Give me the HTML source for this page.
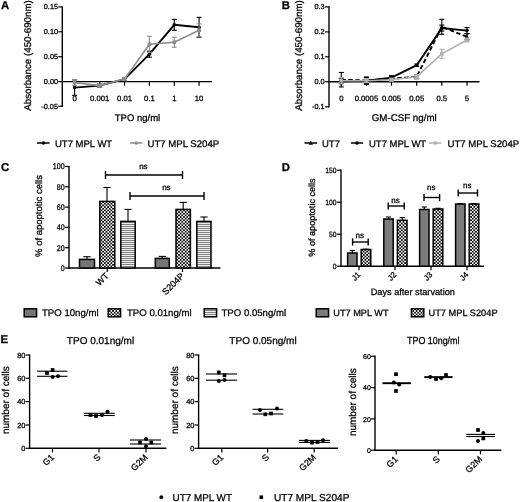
<!DOCTYPE html>
<html><head><meta charset="utf-8"><title>Figure</title>
<style>html,body{margin:0;padding:0;background:#fff;}svg{display:block;will-change:transform;}text{font-family:'Liberation Sans', sans-serif;stroke:#000;stroke-width:0.27px;text-rendering:geometricPrecision;}</style>
</head><body>
<svg width="520" height="502" viewBox="0 0 520 502" style="font-family:'Liberation Sans', sans-serif">
<defs>
<pattern id="chk" width="3.3" height="3.3" patternUnits="userSpaceOnUse"><rect width="3.3" height="3.3" fill="#fff"/><rect x="0" y="0" width="1.65" height="1.65" fill="#000"/><rect x="1.65" y="1.65" width="1.65" height="1.65" fill="#000"/></pattern>
<pattern id="hl" width="2" height="2" patternUnits="userSpaceOnUse"><rect width="2" height="2" fill="#ececec"/><rect x="0" y="0" width="2" height="1" fill="#858585"/></pattern>
</defs>
<rect width="520" height="502" fill="#fff"/>
<text x="1.0" y="8.8" font-size="11.3" text-anchor="start" font-weight="bold" fill="#000">A</text>
<line x1="62.3" y1="6.2" x2="62.3" y2="106.9" stroke="#000" stroke-width="1.4"/>
<line x1="61.8" y1="81.65" x2="211.9" y2="81.65" stroke="#000" stroke-width="1.4"/>
<line x1="58.3" y1="6.9" x2="62.3" y2="6.9" stroke="#000" stroke-width="1.2"/>
<text x="58.0" y="9.3" font-size="7.3" text-anchor="end" font-weight="normal" fill="#000">0.15</text>
<line x1="58.3" y1="31.8" x2="62.3" y2="31.8" stroke="#000" stroke-width="1.2"/>
<text x="58.0" y="34.2" font-size="7.3" text-anchor="end" font-weight="normal" fill="#000">0.10</text>
<line x1="58.3" y1="56.7" x2="62.3" y2="56.7" stroke="#000" stroke-width="1.2"/>
<text x="58.0" y="59.1" font-size="7.3" text-anchor="end" font-weight="normal" fill="#000">0.05</text>
<line x1="58.3" y1="81.6" x2="62.3" y2="81.6" stroke="#000" stroke-width="1.2"/>
<text x="58.0" y="84.0" font-size="7.3" text-anchor="end" font-weight="normal" fill="#000">0.00</text>
<line x1="58.3" y1="106.2" x2="62.3" y2="106.2" stroke="#000" stroke-width="1.2"/>
<text x="58.0" y="108.60000000000001" font-size="7.3" text-anchor="end" font-weight="normal" fill="#000">-0.05</text>
<line x1="74.6" y1="81.65" x2="74.6" y2="85.65" stroke="#000" stroke-width="1.2"/>
<text x="74.6" y="100.65" font-size="7.7" text-anchor="middle" font-weight="normal" fill="#000">0</text>
<line x1="99.6" y1="81.65" x2="99.6" y2="85.65" stroke="#000" stroke-width="1.2"/>
<text x="99.6" y="100.65" font-size="7.7" text-anchor="middle" font-weight="normal" fill="#000">0.001</text>
<line x1="124.5" y1="81.65" x2="124.5" y2="85.65" stroke="#000" stroke-width="1.2"/>
<text x="124.5" y="100.65" font-size="7.7" text-anchor="middle" font-weight="normal" fill="#000">0.01</text>
<line x1="149.4" y1="81.65" x2="149.4" y2="85.65" stroke="#000" stroke-width="1.2"/>
<text x="149.4" y="100.65" font-size="7.7" text-anchor="middle" font-weight="normal" fill="#000">0.1</text>
<line x1="174.3" y1="81.65" x2="174.3" y2="85.65" stroke="#000" stroke-width="1.2"/>
<text x="174.3" y="100.65" font-size="7.7" text-anchor="middle" font-weight="normal" fill="#000">1</text>
<line x1="199.1" y1="81.65" x2="199.1" y2="85.65" stroke="#000" stroke-width="1.2"/>
<text x="199.1" y="100.65" font-size="7.7" text-anchor="middle" font-weight="normal" fill="#000">10</text>
<text x="31.3" y="55.5" font-size="9.75" text-anchor="middle" font-weight="normal" fill="#000" transform="rotate(-90 31.3 55.5)">Absorbance (450-690nm)</text>
<text x="137.5" y="121.0" font-size="9.5" text-anchor="middle" font-weight="normal" fill="#000">TPO ng/ml</text>
<line x1="74.6" y1="79.857" x2="74.6" y2="95.29499999999999" stroke="#000" stroke-width="1.1"/>
<line x1="72.1" y1="79.857" x2="77.1" y2="79.857" stroke="#000" stroke-width="1.1"/>
<line x1="72.1" y1="95.29499999999999" x2="77.1" y2="95.29499999999999" stroke="#000" stroke-width="1.1"/>
<line x1="99.6" y1="84.08999999999999" x2="99.6" y2="87.07799999999999" stroke="#000" stroke-width="1.1"/>
<line x1="97.1" y1="84.08999999999999" x2="102.1" y2="84.08999999999999" stroke="#000" stroke-width="1.1"/>
<line x1="97.1" y1="87.07799999999999" x2="102.1" y2="87.07799999999999" stroke="#000" stroke-width="1.1"/>
<line x1="124.5" y1="77.616" x2="124.5" y2="80.604" stroke="#000" stroke-width="1.1"/>
<line x1="122.0" y1="77.616" x2="127.0" y2="77.616" stroke="#000" stroke-width="1.1"/>
<line x1="122.0" y1="80.604" x2="127.0" y2="80.604" stroke="#000" stroke-width="1.1"/>
<line x1="149.4" y1="51.221999999999994" x2="149.4" y2="57.19799999999999" stroke="#000" stroke-width="1.1"/>
<line x1="146.9" y1="51.221999999999994" x2="151.9" y2="51.221999999999994" stroke="#000" stroke-width="1.1"/>
<line x1="146.9" y1="57.19799999999999" x2="151.9" y2="57.19799999999999" stroke="#000" stroke-width="1.1"/>
<line x1="174.3" y1="19.349999999999994" x2="174.3" y2="30.30599999999999" stroke="#000" stroke-width="1.1"/>
<line x1="171.8" y1="19.349999999999994" x2="176.8" y2="19.349999999999994" stroke="#000" stroke-width="1.1"/>
<line x1="171.8" y1="30.30599999999999" x2="176.8" y2="30.30599999999999" stroke="#000" stroke-width="1.1"/>
<line x1="199.1" y1="17.35799999999999" x2="199.1" y2="37.278" stroke="#000" stroke-width="1.1"/>
<line x1="196.6" y1="17.35799999999999" x2="201.6" y2="17.35799999999999" stroke="#000" stroke-width="1.1"/>
<line x1="196.6" y1="37.278" x2="201.6" y2="37.278" stroke="#000" stroke-width="1.1"/>
<polyline points="74.6,87.6 99.6,85.6 124.5,79.1 149.4,54.2 174.3,24.8 199.1,27.3" fill="none" stroke="#000" stroke-width="1.9"/>
<circle cx="74.6" cy="87.576" r="1.8" fill="#000"/>
<circle cx="99.6" cy="85.58399999999999" r="1.8" fill="#000"/>
<circle cx="124.5" cy="79.11" r="1.8" fill="#000"/>
<circle cx="149.4" cy="54.209999999999994" r="1.8" fill="#000"/>
<circle cx="174.3" cy="24.82799999999999" r="1.8" fill="#000"/>
<circle cx="199.1" cy="27.317999999999998" r="1.8" fill="#000"/>
<line x1="74.6" y1="79.60799999999999" x2="74.6" y2="85.58399999999999" stroke="#8c8c8c" stroke-width="1.1"/>
<line x1="72.1" y1="79.60799999999999" x2="77.1" y2="79.60799999999999" stroke="#8c8c8c" stroke-width="1.1"/>
<line x1="72.1" y1="85.58399999999999" x2="77.1" y2="85.58399999999999" stroke="#8c8c8c" stroke-width="1.1"/>
<line x1="99.6" y1="84.08999999999999" x2="99.6" y2="87.07799999999999" stroke="#8c8c8c" stroke-width="1.1"/>
<line x1="97.1" y1="84.08999999999999" x2="102.1" y2="84.08999999999999" stroke="#8c8c8c" stroke-width="1.1"/>
<line x1="97.1" y1="87.07799999999999" x2="102.1" y2="87.07799999999999" stroke="#8c8c8c" stroke-width="1.1"/>
<line x1="124.5" y1="77.616" x2="124.5" y2="80.604" stroke="#8c8c8c" stroke-width="1.1"/>
<line x1="122.0" y1="77.616" x2="127.0" y2="77.616" stroke="#8c8c8c" stroke-width="1.1"/>
<line x1="122.0" y1="80.604" x2="127.0" y2="80.604" stroke="#8c8c8c" stroke-width="1.1"/>
<line x1="149.4" y1="36.282" x2="149.4" y2="52.217999999999996" stroke="#8c8c8c" stroke-width="1.1"/>
<line x1="146.9" y1="36.282" x2="151.9" y2="36.282" stroke="#8c8c8c" stroke-width="1.1"/>
<line x1="146.9" y1="52.217999999999996" x2="151.9" y2="52.217999999999996" stroke="#8c8c8c" stroke-width="1.1"/>
<line x1="174.3" y1="37.278" x2="174.3" y2="47.23799999999999" stroke="#8c8c8c" stroke-width="1.1"/>
<line x1="171.8" y1="37.278" x2="176.8" y2="37.278" stroke="#8c8c8c" stroke-width="1.1"/>
<line x1="171.8" y1="47.23799999999999" x2="176.8" y2="47.23799999999999" stroke="#8c8c8c" stroke-width="1.1"/>
<line x1="199.1" y1="23.832" x2="199.1" y2="36.779999999999994" stroke="#8c8c8c" stroke-width="1.1"/>
<line x1="196.6" y1="23.832" x2="201.6" y2="23.832" stroke="#8c8c8c" stroke-width="1.1"/>
<line x1="196.6" y1="36.779999999999994" x2="201.6" y2="36.779999999999994" stroke="#8c8c8c" stroke-width="1.1"/>
<polyline points="74.6,82.6 99.6,85.6 124.5,79.1 149.4,44.2 174.3,42.3 199.1,30.3" fill="none" stroke="#8c8c8c" stroke-width="1.6"/>
<rect x="72.8" y="80.79599999999999" width="3.6" height="3.6" fill="#8c8c8c"/>
<rect x="97.8" y="83.78399999999999" width="3.6" height="3.6" fill="#8c8c8c"/>
<rect x="122.7" y="77.31" width="3.6" height="3.6" fill="#8c8c8c"/>
<rect x="147.6" y="42.449999999999996" width="3.6" height="3.6" fill="#8c8c8c"/>
<rect x="172.5" y="40.458" width="3.6" height="3.6" fill="#8c8c8c"/>
<rect x="197.29999999999998" y="28.505999999999997" width="3.6" height="3.6" fill="#8c8c8c"/>
<line x1="37" y1="143" x2="49.6" y2="143" stroke="#000" stroke-width="1.5"/>
<circle cx="43.4" cy="143" r="1.7" fill="#000"/>
<text x="55" y="146.7" font-size="9.5" text-anchor="start" font-weight="normal" fill="#000">UT7 MPL WT</text>
<line x1="130" y1="143" x2="142.3" y2="143" stroke="#8c8c8c" stroke-width="1.5"/>
<circle cx="136.2" cy="143" r="1.8" fill="#8c8c8c"/>
<text x="147.5" y="146.7" font-size="9.6" text-anchor="start" font-weight="normal" fill="#000">UT7 MPL S204P</text>
<text x="281.7" y="8.7" font-size="11.3" text-anchor="start" font-weight="bold" fill="#000">B</text>
<line x1="329.0" y1="6.2" x2="329.0" y2="107.5" stroke="#000" stroke-width="1.4"/>
<line x1="328.5" y1="81.7" x2="479.5" y2="81.7" stroke="#000" stroke-width="1.4"/>
<line x1="325.0" y1="6.9" x2="329.0" y2="6.9" stroke="#000" stroke-width="1.2"/>
<text x="324.7" y="9.3" font-size="7.3" text-anchor="end" font-weight="normal" fill="#000">0.3</text>
<line x1="325.0" y1="31.9" x2="329.0" y2="31.9" stroke="#000" stroke-width="1.2"/>
<text x="324.7" y="34.3" font-size="7.3" text-anchor="end" font-weight="normal" fill="#000">0.2</text>
<line x1="325.0" y1="56.8" x2="329.0" y2="56.8" stroke="#000" stroke-width="1.2"/>
<text x="324.7" y="59.199999999999996" font-size="7.3" text-anchor="end" font-weight="normal" fill="#000">0.1</text>
<line x1="325.0" y1="81.7" x2="329.0" y2="81.7" stroke="#000" stroke-width="1.2"/>
<text x="324.7" y="84.10000000000001" font-size="7.3" text-anchor="end" font-weight="normal" fill="#000">0.0</text>
<line x1="325.0" y1="106.8" x2="329.0" y2="106.8" stroke="#000" stroke-width="1.2"/>
<text x="324.7" y="109.2" font-size="7.3" text-anchor="end" font-weight="normal" fill="#000">-0.1</text>
<line x1="341.3" y1="81.7" x2="341.3" y2="85.7" stroke="#000" stroke-width="1.2"/>
<text x="341.3" y="100.7" font-size="7.7" text-anchor="middle" font-weight="normal" fill="#000">0</text>
<line x1="366.4" y1="81.7" x2="366.4" y2="85.7" stroke="#000" stroke-width="1.2"/>
<text x="366.4" y="100.7" font-size="7.7" text-anchor="middle" font-weight="normal" fill="#000">0.0005</text>
<line x1="391.5" y1="81.7" x2="391.5" y2="85.7" stroke="#000" stroke-width="1.2"/>
<text x="391.5" y="100.7" font-size="7.7" text-anchor="middle" font-weight="normal" fill="#000">0.005</text>
<line x1="416.7" y1="81.7" x2="416.7" y2="85.7" stroke="#000" stroke-width="1.2"/>
<text x="416.7" y="100.7" font-size="7.7" text-anchor="middle" font-weight="normal" fill="#000">0.05</text>
<line x1="441.8" y1="81.7" x2="441.8" y2="85.7" stroke="#000" stroke-width="1.2"/>
<text x="441.8" y="100.7" font-size="7.7" text-anchor="middle" font-weight="normal" fill="#000">0.5</text>
<line x1="467" y1="81.7" x2="467" y2="85.7" stroke="#000" stroke-width="1.2"/>
<text x="467" y="100.7" font-size="7.7" text-anchor="middle" font-weight="normal" fill="#000">5</text>
<text x="302" y="55.5" font-size="9.75" text-anchor="middle" font-weight="normal" fill="#000" transform="rotate(-90 302 55.5)">Absorbance (450-690nm)</text>
<text x="404.2" y="120.6" font-size="9.75" text-anchor="middle" font-weight="normal" fill="#000">GM-CSF ng/ml</text>
<line x1="341.3" y1="72.4685" x2="341.3" y2="86.93950000000001" stroke="#000" stroke-width="1.1"/>
<line x1="338.8" y1="72.4685" x2="343.8" y2="72.4685" stroke="#000" stroke-width="1.1"/>
<line x1="338.8" y1="86.93950000000001" x2="343.8" y2="86.93950000000001" stroke="#000" stroke-width="1.1"/>
<line x1="366.4" y1="77.4585" x2="366.4" y2="83.4465" stroke="#000" stroke-width="1.1"/>
<line x1="363.9" y1="77.4585" x2="368.9" y2="77.4585" stroke="#000" stroke-width="1.1"/>
<line x1="363.9" y1="83.4465" x2="368.9" y2="83.4465" stroke="#000" stroke-width="1.1"/>
<line x1="391.5" y1="76.211" x2="391.5" y2="81.20100000000001" stroke="#000" stroke-width="1.1"/>
<line x1="389.0" y1="76.211" x2="394.0" y2="76.211" stroke="#000" stroke-width="1.1"/>
<line x1="389.0" y1="81.20100000000001" x2="394.0" y2="81.20100000000001" stroke="#000" stroke-width="1.1"/>
<line x1="416.7" y1="74.714" x2="416.7" y2="78.706" stroke="#000" stroke-width="1.1"/>
<line x1="414.2" y1="74.714" x2="419.2" y2="74.714" stroke="#000" stroke-width="1.1"/>
<line x1="414.2" y1="78.706" x2="419.2" y2="78.706" stroke="#000" stroke-width="1.1"/>
<line x1="441.8" y1="19.325000000000003" x2="441.8" y2="34.295" stroke="#000" stroke-width="1.1"/>
<line x1="439.3" y1="19.325000000000003" x2="444.3" y2="19.325000000000003" stroke="#000" stroke-width="1.1"/>
<line x1="439.3" y1="34.295" x2="444.3" y2="34.295" stroke="#000" stroke-width="1.1"/>
<line x1="467" y1="33.796" x2="467" y2="39.784000000000006" stroke="#000" stroke-width="1.1"/>
<line x1="464.5" y1="33.796" x2="469.5" y2="33.796" stroke="#000" stroke-width="1.1"/>
<line x1="464.5" y1="39.784000000000006" x2="469.5" y2="39.784000000000006" stroke="#000" stroke-width="1.1"/>
<polyline points="341.3,79.7 366.4,80.5 391.5,78.7 416.7,76.7 441.8,26.8 467,36.8" fill="none" stroke="#000" stroke-width="1.9" stroke-dasharray="4.5,2.5"/>
<polygon points="341.3,77.504 339.1,81.504 343.5,81.504" fill="#000"/>
<polygon points="366.4,78.2525 364.2,82.2525 368.59999999999997,82.2525" fill="#000"/>
<polygon points="391.5,76.506 389.3,80.506 393.7,80.506" fill="#000"/>
<polygon points="416.7,74.51 414.5,78.51 418.9,78.51" fill="#000"/>
<polygon points="441.8,24.610000000000003 439.6,28.610000000000003 444.0,28.610000000000003" fill="#000"/>
<polygon points="467,34.59 464.8,38.59 469.2,38.59" fill="#000"/>
<line x1="341.3" y1="78.706" x2="341.3" y2="83.696" stroke="#000" stroke-width="1.1"/>
<line x1="338.8" y1="78.706" x2="343.8" y2="78.706" stroke="#000" stroke-width="1.1"/>
<line x1="338.8" y1="83.696" x2="343.8" y2="83.696" stroke="#000" stroke-width="1.1"/>
<line x1="366.4" y1="76.9595" x2="366.4" y2="84.4445" stroke="#000" stroke-width="1.1"/>
<line x1="363.9" y1="76.9595" x2="368.9" y2="76.9595" stroke="#000" stroke-width="1.1"/>
<line x1="363.9" y1="84.4445" x2="368.9" y2="84.4445" stroke="#000" stroke-width="1.1"/>
<line x1="391.5" y1="75.712" x2="391.5" y2="79.70400000000001" stroke="#000" stroke-width="1.1"/>
<line x1="389.0" y1="75.712" x2="394.0" y2="75.712" stroke="#000" stroke-width="1.1"/>
<line x1="389.0" y1="79.70400000000001" x2="394.0" y2="79.70400000000001" stroke="#000" stroke-width="1.1"/>
<line x1="416.7" y1="63.9855" x2="416.7" y2="66.4805" stroke="#000" stroke-width="1.1"/>
<line x1="414.2" y1="63.9855" x2="419.2" y2="63.9855" stroke="#000" stroke-width="1.1"/>
<line x1="414.2" y1="66.4805" x2="419.2" y2="66.4805" stroke="#000" stroke-width="1.1"/>
<line x1="441.8" y1="25.063499999999998" x2="441.8" y2="31.051500000000004" stroke="#000" stroke-width="1.1"/>
<line x1="439.3" y1="25.063499999999998" x2="444.3" y2="25.063499999999998" stroke="#000" stroke-width="1.1"/>
<line x1="439.3" y1="31.051500000000004" x2="444.3" y2="31.051500000000004" stroke="#000" stroke-width="1.1"/>
<line x1="467" y1="27.558500000000002" x2="467" y2="33.54650000000001" stroke="#000" stroke-width="1.1"/>
<line x1="464.5" y1="27.558500000000002" x2="469.5" y2="27.558500000000002" stroke="#000" stroke-width="1.1"/>
<line x1="464.5" y1="33.54650000000001" x2="469.5" y2="33.54650000000001" stroke="#000" stroke-width="1.1"/>
<polyline points="341.3,81.2 366.4,80.7 391.5,77.7 416.7,65.2 441.8,28.1 467,30.6" fill="none" stroke="#000" stroke-width="1.9"/>
<circle cx="341.3" cy="81.20100000000001" r="1.8" fill="#000"/>
<circle cx="366.4" cy="80.702" r="1.8" fill="#000"/>
<circle cx="391.5" cy="77.708" r="1.8" fill="#000"/>
<circle cx="416.7" cy="65.233" r="1.8" fill="#000"/>
<circle cx="441.8" cy="28.057500000000005" r="1.8" fill="#000"/>
<circle cx="467" cy="30.55250000000001" r="1.8" fill="#000"/>
<line x1="341.3" y1="77.708" x2="341.3" y2="83.696" stroke="#b0b0b0" stroke-width="1.1"/>
<line x1="338.8" y1="77.708" x2="343.8" y2="77.708" stroke="#b0b0b0" stroke-width="1.1"/>
<line x1="338.8" y1="83.696" x2="343.8" y2="83.696" stroke="#b0b0b0" stroke-width="1.1"/>
<line x1="366.4" y1="78.706" x2="366.4" y2="82.69800000000001" stroke="#b0b0b0" stroke-width="1.1"/>
<line x1="363.9" y1="78.706" x2="368.9" y2="78.706" stroke="#b0b0b0" stroke-width="1.1"/>
<line x1="363.9" y1="82.69800000000001" x2="368.9" y2="82.69800000000001" stroke="#b0b0b0" stroke-width="1.1"/>
<line x1="391.5" y1="78.20700000000001" x2="391.5" y2="81.20100000000001" stroke="#b0b0b0" stroke-width="1.1"/>
<line x1="389.0" y1="78.20700000000001" x2="394.0" y2="78.20700000000001" stroke="#b0b0b0" stroke-width="1.1"/>
<line x1="389.0" y1="81.20100000000001" x2="394.0" y2="81.20100000000001" stroke="#b0b0b0" stroke-width="1.1"/>
<line x1="416.7" y1="74.714" x2="416.7" y2="78.706" stroke="#b0b0b0" stroke-width="1.1"/>
<line x1="414.2" y1="74.714" x2="419.2" y2="74.714" stroke="#b0b0b0" stroke-width="1.1"/>
<line x1="414.2" y1="78.706" x2="419.2" y2="78.706" stroke="#b0b0b0" stroke-width="1.1"/>
<line x1="441.8" y1="49.265" x2="441.8" y2="58.247" stroke="#b0b0b0" stroke-width="1.1"/>
<line x1="439.3" y1="49.265" x2="444.3" y2="49.265" stroke="#b0b0b0" stroke-width="1.1"/>
<line x1="439.3" y1="58.247" x2="444.3" y2="58.247" stroke="#b0b0b0" stroke-width="1.1"/>
<line x1="467" y1="38.0375" x2="467" y2="42.0295" stroke="#b0b0b0" stroke-width="1.1"/>
<line x1="464.5" y1="38.0375" x2="469.5" y2="38.0375" stroke="#b0b0b0" stroke-width="1.1"/>
<line x1="464.5" y1="42.0295" x2="469.5" y2="42.0295" stroke="#b0b0b0" stroke-width="1.1"/>
<polyline points="341.3,80.7 366.4,80.7 391.5,79.7 416.7,76.7 441.8,53.8 467,40.0" fill="none" stroke="#b0b0b0" stroke-width="1.6"/>
<rect x="339.5" y="78.902" width="3.6" height="3.6" fill="#b0b0b0"/>
<rect x="364.59999999999997" y="78.902" width="3.6" height="3.6" fill="#b0b0b0"/>
<rect x="389.7" y="77.90400000000001" width="3.6" height="3.6" fill="#b0b0b0"/>
<rect x="414.9" y="74.91000000000001" width="3.6" height="3.6" fill="#b0b0b0"/>
<rect x="440.0" y="51.956" width="3.6" height="3.6" fill="#b0b0b0"/>
<rect x="465.2" y="38.23350000000001" width="3.6" height="3.6" fill="#b0b0b0"/>
<line x1="304.5" y1="143" x2="317" y2="143" stroke="#000" stroke-width="1.5"/>
<polygon points="310.8,140.8 308.6,144.8 313,144.8" fill="#000"/>
<text x="322" y="146.7" font-size="9.5" text-anchor="start" font-weight="normal" fill="#000">UT7</text>
<line x1="351" y1="143" x2="363.2" y2="143" stroke="#000" stroke-width="1.5"/>
<circle cx="357" cy="143" r="1.8" fill="#000"/>
<text x="369" y="146.7" font-size="9.5" text-anchor="start" font-weight="normal" fill="#000">UT7 MPL WT</text>
<line x1="429" y1="143" x2="441.3" y2="143" stroke="#b0b0b0" stroke-width="1.5"/>
<rect x="433.59999999999997" y="141.4" width="3.2" height="3.2" fill="#b0b0b0"/>
<text x="447.5" y="146.7" font-size="9.6" text-anchor="start" font-weight="normal" fill="#000">UT7 MPL S204P</text>
<text x="1.0" y="171.0" font-size="11.4" text-anchor="start" font-weight="bold" fill="#000">C</text>
<line x1="69.0" y1="165.9" x2="69.0" y2="268.7" stroke="#000" stroke-width="1.4"/>
<line x1="68.5" y1="268.0" x2="220.5" y2="268.0" stroke="#000" stroke-width="1.4"/>
<line x1="65.0" y1="268.0" x2="69.0" y2="268.0" stroke="#000" stroke-width="1.2"/>
<text x="0" y="0" font-size="8.2" text-anchor="end" font-weight="normal" fill="#000" transform="translate(64.7 270.9) scale(0.87 1)">0</text>
<line x1="65.0" y1="247.7" x2="69.0" y2="247.7" stroke="#000" stroke-width="1.2"/>
<text x="0" y="0" font-size="8.2" text-anchor="end" font-weight="normal" fill="#000" transform="translate(64.7 250.6) scale(0.87 1)">20</text>
<line x1="65.0" y1="227.4" x2="69.0" y2="227.4" stroke="#000" stroke-width="1.2"/>
<text x="0" y="0" font-size="8.2" text-anchor="end" font-weight="normal" fill="#000" transform="translate(64.7 230.3) scale(0.87 1)">40</text>
<line x1="65.0" y1="207.10000000000002" x2="69.0" y2="207.10000000000002" stroke="#000" stroke-width="1.2"/>
<text x="0" y="0" font-size="8.2" text-anchor="end" font-weight="normal" fill="#000" transform="translate(64.7 210.00000000000003) scale(0.87 1)">60</text>
<line x1="65.0" y1="186.8" x2="69.0" y2="186.8" stroke="#000" stroke-width="1.2"/>
<text x="0" y="0" font-size="8.2" text-anchor="end" font-weight="normal" fill="#000" transform="translate(64.7 189.70000000000002) scale(0.87 1)">80</text>
<line x1="65.0" y1="166.5" x2="69.0" y2="166.5" stroke="#000" stroke-width="1.2"/>
<text x="0" y="0" font-size="8.2" text-anchor="end" font-weight="normal" fill="#000" transform="translate(64.7 169.4) scale(0.87 1)">100</text>
<text x="41.8" y="216" font-size="9.5" text-anchor="middle" font-weight="normal" fill="#000" transform="rotate(-90 41.8 216)">% of apoptotic cells</text>
<line x1="87" y1="259.4" x2="87" y2="256.7" stroke="#000" stroke-width="1.1"/>
<line x1="83.4" y1="256.7" x2="90.6" y2="256.7" stroke="#000" stroke-width="1.1"/>
<rect x="79.5" y="259.4" width="15.0" height="8.600000000000023" fill="#757575" stroke="#000" stroke-width="1.5"/>
<line x1="107" y1="201.4" x2="107" y2="187.5" stroke="#000" stroke-width="1.1"/>
<line x1="103.4" y1="187.5" x2="110.6" y2="187.5" stroke="#000" stroke-width="1.1"/>
<rect x="99.8" y="201.4" width="15.0" height="66.6" fill="url(#chk)" stroke="#000" stroke-width="1.5"/>
<line x1="128" y1="221.4" x2="128" y2="209.4" stroke="#000" stroke-width="1.1"/>
<line x1="124.4" y1="209.4" x2="131.6" y2="209.4" stroke="#000" stroke-width="1.1"/>
<rect x="120.8" y="221.4" width="14.399999999999991" height="46.599999999999994" fill="url(#hl)" stroke="#000" stroke-width="1.5"/>
<line x1="162.3" y1="258.4" x2="162.3" y2="256.4" stroke="#000" stroke-width="1.1"/>
<line x1="158.70000000000002" y1="256.4" x2="165.9" y2="256.4" stroke="#000" stroke-width="1.1"/>
<rect x="155.3" y="258.4" width="14.0" height="9.600000000000023" fill="#757575" stroke="#000" stroke-width="1.5"/>
<line x1="183.2" y1="209.4" x2="183.2" y2="202.4" stroke="#000" stroke-width="1.1"/>
<line x1="179.6" y1="202.4" x2="186.79999999999998" y2="202.4" stroke="#000" stroke-width="1.1"/>
<rect x="176" y="209.4" width="14.400000000000006" height="58.599999999999994" fill="url(#chk)" stroke="#000" stroke-width="1.5"/>
<line x1="204" y1="221.4" x2="204" y2="217" stroke="#000" stroke-width="1.1"/>
<line x1="200.4" y1="217" x2="207.6" y2="217" stroke="#000" stroke-width="1.1"/>
<rect x="196.8" y="221.4" width="14.199999999999989" height="46.599999999999994" fill="url(#hl)" stroke="#000" stroke-width="1.5"/>
<line x1="107.2" y1="268.0" x2="107.2" y2="272.0" stroke="#000" stroke-width="1.2"/>
<line x1="182.5" y1="268.0" x2="182.5" y2="272.0" stroke="#000" stroke-width="1.2"/>
<text x="109.3" y="276.5" font-size="8.8" text-anchor="end" font-weight="normal" fill="#000" transform="rotate(-45 109.3 276.5)">WT</text>
<text x="184.8" y="276.4" font-size="9.0" text-anchor="end" font-weight="normal" fill="#000" transform="rotate(-45 184.8 276.4)">S204P</text>
<line x1="105.5" y1="175" x2="182.5" y2="175" stroke="#000" stroke-width="1.4"/>
<line x1="105.5" y1="171" x2="105.5" y2="179" stroke="#000" stroke-width="1.4"/>
<line x1="182.5" y1="171" x2="182.5" y2="179" stroke="#000" stroke-width="1.4"/>
<text x="143.4" y="168.5" font-size="8.0" text-anchor="middle" font-weight="normal" fill="#000">ns</text>
<line x1="130" y1="196" x2="204" y2="196" stroke="#000" stroke-width="1.4"/>
<line x1="130" y1="192" x2="130" y2="200" stroke="#000" stroke-width="1.4"/>
<line x1="204" y1="192" x2="204" y2="200" stroke="#000" stroke-width="1.4"/>
<text x="166.4" y="189.5" font-size="8.0" text-anchor="middle" font-weight="normal" fill="#000">ns</text>
<rect x="24.2" y="308.8" width="12.4" height="8.0" fill="#757575" stroke="#000" stroke-width="1.5"/>
<text x="42" y="316.0" font-size="9.6" text-anchor="start" font-weight="normal" fill="#000">TPO 10ng/ml</text>
<rect x="108.2" y="308.8" width="12.4" height="8.0" fill="url(#chk)" stroke="#000" stroke-width="1.5"/>
<text x="127" y="316.0" font-size="9.6" text-anchor="start" font-weight="normal" fill="#000">TPO 0.01ng/ml</text>
<rect x="204.2" y="308.8" width="12.4" height="8.0" fill="url(#hl)" stroke="#000" stroke-width="1.5"/>
<text x="221.5" y="316.0" font-size="9.6" text-anchor="start" font-weight="normal" fill="#000">TPO 0.05ng/ml</text>
<text x="281.7" y="171.2" font-size="11.3" text-anchor="start" font-weight="bold" fill="#000">D</text>
<line x1="341.0" y1="169.5" x2="341.0" y2="266.9" stroke="#000" stroke-width="1.4"/>
<line x1="340.5" y1="266.2" x2="484.3" y2="266.2" stroke="#000" stroke-width="1.4"/>
<line x1="337.0" y1="266.2" x2="341.0" y2="266.2" stroke="#000" stroke-width="1.2"/>
<text x="0" y="0" font-size="7.6" text-anchor="end" font-weight="normal" fill="#000" transform="translate(336.5 269.0) scale(0.89 1)">0</text>
<line x1="337.0" y1="234.2" x2="341.0" y2="234.2" stroke="#000" stroke-width="1.2"/>
<text x="0" y="0" font-size="7.6" text-anchor="end" font-weight="normal" fill="#000" transform="translate(336.5 237.0) scale(0.89 1)">50</text>
<line x1="337.0" y1="202.2" x2="341.0" y2="202.2" stroke="#000" stroke-width="1.2"/>
<text x="0" y="0" font-size="7.6" text-anchor="end" font-weight="normal" fill="#000" transform="translate(336.5 205.0) scale(0.89 1)">100</text>
<line x1="337.0" y1="170.2" x2="341.0" y2="170.2" stroke="#000" stroke-width="1.2"/>
<text x="0" y="0" font-size="7.6" text-anchor="end" font-weight="normal" fill="#000" transform="translate(336.5 173.0) scale(0.89 1)">150</text>
<text x="314.5" y="217.5" font-size="9.1" text-anchor="middle" font-weight="normal" fill="#000" transform="rotate(-90 314.5 217.5)">% of apoptotic cells</text>
<line x1="352.3" y1="253" x2="352.3" y2="250.5" stroke="#000" stroke-width="1.1"/>
<line x1="349.7" y1="250.5" x2="354.90000000000003" y2="250.5" stroke="#000" stroke-width="1.1"/>
<rect x="347.6" y="253" width="9.399999999999977" height="13.199999999999989" fill="#7b7b7b" stroke="#000" stroke-width="1.5"/>
<line x1="366.0" y1="249.5" x2="366.0" y2="249.2" stroke="#000" stroke-width="1.1"/>
<line x1="363.4" y1="249.2" x2="368.6" y2="249.2" stroke="#000" stroke-width="1.1"/>
<rect x="361.20000000000005" y="249.5" width="9.599999999999966" height="16.69999999999999" fill="url(#chk)" stroke="#000" stroke-width="1.5"/>
<line x1="359" y1="266.2" x2="359" y2="270.2" stroke="#000" stroke-width="1.2"/>
<text x="360.9" y="275.2" font-size="8.0" text-anchor="end" font-weight="normal" fill="#000" transform="rotate(-45 360.9 275.2)">J1</text>
<line x1="352.6" y1="242" x2="368.2" y2="242" stroke="#000" stroke-width="1.4"/>
<line x1="352.6" y1="238.4" x2="352.6" y2="245.6" stroke="#000" stroke-width="1.4"/>
<line x1="368.2" y1="238.4" x2="368.2" y2="245.6" stroke="#000" stroke-width="1.4"/>
<text x="359.79999999999995" y="237.5" font-size="8.0" text-anchor="middle" font-weight="normal" fill="#000">ns</text>
<line x1="388.5" y1="219" x2="388.5" y2="217" stroke="#000" stroke-width="1.1"/>
<line x1="385.9" y1="217" x2="391.1" y2="217" stroke="#000" stroke-width="1.1"/>
<rect x="383.8" y="219" width="9.399999999999977" height="47.19999999999999" fill="#7b7b7b" stroke="#000" stroke-width="1.5"/>
<line x1="402.2" y1="220.3" x2="402.2" y2="217.6" stroke="#000" stroke-width="1.1"/>
<line x1="399.59999999999997" y1="217.6" x2="404.8" y2="217.6" stroke="#000" stroke-width="1.1"/>
<rect x="397.40000000000003" y="220.3" width="9.599999999999966" height="45.89999999999998" fill="url(#chk)" stroke="#000" stroke-width="1.5"/>
<line x1="395" y1="266.2" x2="395" y2="270.2" stroke="#000" stroke-width="1.2"/>
<text x="396.9" y="275.2" font-size="8.0" text-anchor="end" font-weight="normal" fill="#000" transform="rotate(-45 396.9 275.2)">J2</text>
<line x1="388.2" y1="206" x2="404.2" y2="206" stroke="#000" stroke-width="1.4"/>
<line x1="388.2" y1="202.4" x2="388.2" y2="209.6" stroke="#000" stroke-width="1.4"/>
<line x1="404.2" y1="202.4" x2="404.2" y2="209.6" stroke="#000" stroke-width="1.4"/>
<text x="395.59999999999997" y="202.8" font-size="8.0" text-anchor="middle" font-weight="normal" fill="#000">ns</text>
<line x1="424.3" y1="209.5" x2="424.3" y2="207" stroke="#000" stroke-width="1.1"/>
<line x1="421.7" y1="207" x2="426.90000000000003" y2="207" stroke="#000" stroke-width="1.1"/>
<rect x="419.6" y="209.5" width="9.399999999999977" height="56.69999999999999" fill="#7b7b7b" stroke="#000" stroke-width="1.5"/>
<line x1="438.0" y1="209" x2="438.0" y2="208.3" stroke="#000" stroke-width="1.1"/>
<line x1="435.4" y1="208.3" x2="440.6" y2="208.3" stroke="#000" stroke-width="1.1"/>
<rect x="433.20000000000005" y="209" width="9.599999999999966" height="57.19999999999999" fill="url(#chk)" stroke="#000" stroke-width="1.5"/>
<line x1="431" y1="266.2" x2="431" y2="270.2" stroke="#000" stroke-width="1.2"/>
<text x="432.9" y="275.2" font-size="8.0" text-anchor="end" font-weight="normal" fill="#000" transform="rotate(-45 432.9 275.2)">J3</text>
<line x1="424" y1="197.5" x2="439.6" y2="197.5" stroke="#000" stroke-width="1.4"/>
<line x1="424" y1="193.9" x2="424" y2="201.1" stroke="#000" stroke-width="1.4"/>
<line x1="439.6" y1="193.9" x2="439.6" y2="201.1" stroke="#000" stroke-width="1.4"/>
<text x="431.2" y="189.5" font-size="8.0" text-anchor="middle" font-weight="normal" fill="#000">ns</text>
<line x1="460.3" y1="204" x2="460.3" y2="203.6" stroke="#000" stroke-width="1.1"/>
<line x1="457.7" y1="203.6" x2="462.90000000000003" y2="203.6" stroke="#000" stroke-width="1.1"/>
<rect x="455.6" y="204" width="9.399999999999977" height="62.19999999999999" fill="#7b7b7b" stroke="#000" stroke-width="1.5"/>
<line x1="474.0" y1="204" x2="474.0" y2="203.6" stroke="#000" stroke-width="1.1"/>
<line x1="471.4" y1="203.6" x2="476.6" y2="203.6" stroke="#000" stroke-width="1.1"/>
<rect x="469.20000000000005" y="204" width="9.599999999999966" height="62.19999999999999" fill="url(#chk)" stroke="#000" stroke-width="1.5"/>
<line x1="467" y1="266.2" x2="467" y2="270.2" stroke="#000" stroke-width="1.2"/>
<text x="468.9" y="275.2" font-size="8.0" text-anchor="end" font-weight="normal" fill="#000" transform="rotate(-45 468.9 275.2)">J4</text>
<line x1="458.2" y1="193" x2="477.5" y2="193" stroke="#000" stroke-width="1.4"/>
<line x1="458.2" y1="189.4" x2="458.2" y2="196.6" stroke="#000" stroke-width="1.4"/>
<line x1="477.5" y1="189.4" x2="477.5" y2="196.6" stroke="#000" stroke-width="1.4"/>
<text x="467.25" y="187.5" font-size="8.0" text-anchor="middle" font-weight="normal" fill="#000">ns</text>
<text x="412.8" y="295.4" font-size="9.2" text-anchor="middle" font-weight="normal" fill="#000">Days after starvation</text>
<rect x="316.2" y="308.8" width="12.4" height="8.0" fill="#7b7b7b" stroke="#000" stroke-width="1.5"/>
<text x="333.3" y="316.0" font-size="9.2" text-anchor="start" font-weight="normal" fill="#000">UT7 MPL WT</text>
<rect x="411.4" y="308.8" width="12.4" height="8.0" fill="url(#chk)" stroke="#000" stroke-width="1.5"/>
<text x="428.5" y="316.0" font-size="9.25" text-anchor="start" font-weight="normal" fill="#000">UT7 MPL S204P</text>
<text x="0.5" y="343.4" font-size="11.4" text-anchor="start" font-weight="bold" fill="#000">E</text>
<line x1="29.6" y1="354.4" x2="29.6" y2="449.0" stroke="#000" stroke-width="1.4"/>
<line x1="29.1" y1="448.3" x2="166.3" y2="448.3" stroke="#000" stroke-width="1.4"/>
<line x1="25.6" y1="355" x2="29.6" y2="355" stroke="#000" stroke-width="1.2"/>
<text x="25.400000000000002" y="357.7" font-size="7.4" text-anchor="end" font-weight="normal" fill="#000">80</text>
<line x1="25.6" y1="378.3" x2="29.6" y2="378.3" stroke="#000" stroke-width="1.2"/>
<text x="25.400000000000002" y="381.0" font-size="7.4" text-anchor="end" font-weight="normal" fill="#000">60</text>
<line x1="25.6" y1="401.6" x2="29.6" y2="401.6" stroke="#000" stroke-width="1.2"/>
<text x="25.400000000000002" y="404.3" font-size="7.4" text-anchor="end" font-weight="normal" fill="#000">40</text>
<line x1="25.6" y1="425" x2="29.6" y2="425" stroke="#000" stroke-width="1.2"/>
<text x="25.400000000000002" y="427.7" font-size="7.4" text-anchor="end" font-weight="normal" fill="#000">20</text>
<line x1="25.6" y1="448.3" x2="29.6" y2="448.3" stroke="#000" stroke-width="1.2"/>
<text x="25.400000000000002" y="451.0" font-size="7.4" text-anchor="end" font-weight="normal" fill="#000">0</text>
<text x="9.0" y="400.2" font-size="10" text-anchor="middle" font-weight="normal" fill="#000" transform="rotate(-90 9.0 400.2)">number of cells</text>
<text x="100.5" y="343.7" font-size="10" text-anchor="middle" font-weight="normal" fill="#000">TPO 0.01ng/ml</text>
<line x1="52.5" y1="448.3" x2="52.5" y2="452.5" stroke="#000" stroke-width="1.2"/>
<text x="54.7" y="457.90000000000003" font-size="8.9" text-anchor="end" font-weight="normal" fill="#000" transform="rotate(-45 54.7 457.90000000000003)">G1</text>
<line x1="99" y1="448.3" x2="99" y2="452.5" stroke="#000" stroke-width="1.2"/>
<text x="101.2" y="457.90000000000003" font-size="8.9" text-anchor="end" font-weight="normal" fill="#000" transform="rotate(-45 101.2 457.90000000000003)">S</text>
<line x1="146" y1="448.3" x2="146" y2="452.5" stroke="#000" stroke-width="1.2"/>
<text x="148.2" y="457.90000000000003" font-size="8.9" text-anchor="end" font-weight="normal" fill="#000" transform="rotate(-45 148.2 457.90000000000003)">G2M</text>
<line x1="37" y1="371.2" x2="67.5" y2="371.2" stroke="#000" stroke-width="1.1"/>
<line x1="37" y1="376.3" x2="67.5" y2="376.3" stroke="#000" stroke-width="1.1"/>
<circle cx="52.6" cy="377" r="2.0" fill="#000"/>
<circle cx="58" cy="376.2" r="2.0" fill="#000"/>
<rect x="45.15" y="371.15" width="3.7" height="3.7" fill="#000"/>
<rect x="50.75" y="368.15" width="3.7" height="3.7" fill="#000"/>
<line x1="84" y1="413.3" x2="114.7" y2="413.3" stroke="#000" stroke-width="1.1"/>
<line x1="84" y1="415.5" x2="114.7" y2="415.5" stroke="#000" stroke-width="1.1"/>
<circle cx="102" cy="415" r="2.0" fill="#000"/>
<circle cx="107.5" cy="411.8" r="2.0" fill="#000"/>
<rect x="88.65" y="413.15" width="3.7" height="3.7" fill="#000"/>
<rect x="94.15" y="414.15" width="3.7" height="3.7" fill="#000"/>
<line x1="130" y1="440" x2="161" y2="440" stroke="#000" stroke-width="1.1"/>
<line x1="130" y1="444" x2="161" y2="444" stroke="#000" stroke-width="1.1"/>
<circle cx="146" cy="439" r="2.0" fill="#000"/>
<circle cx="146" cy="446.3" r="2.0" fill="#000"/>
<rect x="138.15" y="440.65" width="3.7" height="3.7" fill="#000"/>
<rect x="149.45000000000002" y="440.65" width="3.7" height="3.7" fill="#000"/>
<line x1="198.6" y1="354.4" x2="198.6" y2="449.0" stroke="#000" stroke-width="1.4"/>
<line x1="198.1" y1="448.3" x2="338" y2="448.3" stroke="#000" stroke-width="1.4"/>
<line x1="194.6" y1="355" x2="198.6" y2="355" stroke="#000" stroke-width="1.2"/>
<text x="194.4" y="357.7" font-size="7.4" text-anchor="end" font-weight="normal" fill="#000">80</text>
<line x1="194.6" y1="378.3" x2="198.6" y2="378.3" stroke="#000" stroke-width="1.2"/>
<text x="194.4" y="381.0" font-size="7.4" text-anchor="end" font-weight="normal" fill="#000">60</text>
<line x1="194.6" y1="401.6" x2="198.6" y2="401.6" stroke="#000" stroke-width="1.2"/>
<text x="194.4" y="404.3" font-size="7.4" text-anchor="end" font-weight="normal" fill="#000">40</text>
<line x1="194.6" y1="425" x2="198.6" y2="425" stroke="#000" stroke-width="1.2"/>
<text x="194.4" y="427.7" font-size="7.4" text-anchor="end" font-weight="normal" fill="#000">20</text>
<line x1="194.6" y1="448.3" x2="198.6" y2="448.3" stroke="#000" stroke-width="1.2"/>
<text x="194.4" y="451.0" font-size="7.4" text-anchor="end" font-weight="normal" fill="#000">0</text>
<text x="177.8" y="400.2" font-size="10" text-anchor="middle" font-weight="normal" fill="#000" transform="rotate(-90 177.8 400.2)">number of cells</text>
<text x="263" y="343.7" font-size="10" text-anchor="middle" font-weight="normal" fill="#000">TPO 0.05ng/ml</text>
<line x1="221.8" y1="448.3" x2="221.8" y2="452.5" stroke="#000" stroke-width="1.2"/>
<text x="224.0" y="457.90000000000003" font-size="8.9" text-anchor="end" font-weight="normal" fill="#000" transform="rotate(-45 224.0 457.90000000000003)">G1</text>
<line x1="267.6" y1="448.3" x2="267.6" y2="452.5" stroke="#000" stroke-width="1.2"/>
<text x="269.8" y="457.90000000000003" font-size="8.9" text-anchor="end" font-weight="normal" fill="#000" transform="rotate(-45 269.8 457.90000000000003)">S</text>
<line x1="314.2" y1="448.3" x2="314.2" y2="452.5" stroke="#000" stroke-width="1.2"/>
<text x="316.4" y="457.90000000000003" font-size="8.9" text-anchor="end" font-weight="normal" fill="#000" transform="rotate(-45 316.4 457.90000000000003)">G2M</text>
<line x1="206" y1="374" x2="237" y2="374" stroke="#000" stroke-width="1.1"/>
<line x1="206" y1="380.2" x2="237" y2="380.2" stroke="#000" stroke-width="1.1"/>
<circle cx="218.8" cy="381" r="2.0" fill="#000"/>
<circle cx="224.5" cy="380" r="2.0" fill="#000"/>
<rect x="216.95000000000002" y="370.54999999999995" width="3.7" height="3.7" fill="#000"/>
<rect x="222.65" y="373.45" width="3.7" height="3.7" fill="#000"/>
<line x1="252.5" y1="409.3" x2="283.3" y2="409.3" stroke="#000" stroke-width="1.1"/>
<line x1="252.5" y1="414" x2="283.3" y2="414" stroke="#000" stroke-width="1.1"/>
<circle cx="260" cy="410" r="2.0" fill="#000"/>
<circle cx="277" cy="408.6" r="2.0" fill="#000"/>
<rect x="263.45" y="412.45" width="3.7" height="3.7" fill="#000"/>
<rect x="269.15" y="411.65" width="3.7" height="3.7" fill="#000"/>
<line x1="299" y1="440.4" x2="330" y2="440.4" stroke="#000" stroke-width="1.1"/>
<line x1="299" y1="442.4" x2="330" y2="442.4" stroke="#000" stroke-width="1.1"/>
<circle cx="306.3" cy="441" r="2.0" fill="#000"/>
<circle cx="323" cy="440.2" r="2.0" fill="#000"/>
<rect x="310.15" y="440.75" width="3.7" height="3.7" fill="#000"/>
<rect x="315.65" y="440.15" width="3.7" height="3.7" fill="#000"/>
<line x1="375.0" y1="355.4" x2="375.0" y2="450.9" stroke="#000" stroke-width="1.4"/>
<line x1="374.5" y1="450.2" x2="501.3" y2="450.2" stroke="#000" stroke-width="1.4"/>
<line x1="371.0" y1="356.3" x2="375.0" y2="356.3" stroke="#000" stroke-width="1.2"/>
<text x="370.8" y="359.0" font-size="7.0" text-anchor="end" font-weight="normal" fill="#000">60</text>
<line x1="371.0" y1="387.6" x2="375.0" y2="387.6" stroke="#000" stroke-width="1.2"/>
<text x="370.8" y="390.3" font-size="7.0" text-anchor="end" font-weight="normal" fill="#000">40</text>
<line x1="371.0" y1="418.9" x2="375.0" y2="418.9" stroke="#000" stroke-width="1.2"/>
<text x="370.8" y="421.59999999999997" font-size="7.0" text-anchor="end" font-weight="normal" fill="#000">20</text>
<line x1="371.0" y1="450.2" x2="375.0" y2="450.2" stroke="#000" stroke-width="1.2"/>
<text x="370.8" y="452.9" font-size="7.0" text-anchor="end" font-weight="normal" fill="#000">0</text>
<text x="356.3" y="402.2" font-size="10" text-anchor="middle" font-weight="normal" fill="#000" transform="rotate(-90 356.3 402.2)">number of cells</text>
<text x="0" y="0" font-size="10.2" text-anchor="middle" font-weight="normal" fill="#000" transform="translate(433.25 343.9) scale(0.875 1)">TPO 10ng/ml</text>
<line x1="396.2" y1="450.2" x2="396.2" y2="454.4" stroke="#000" stroke-width="1.2"/>
<text x="398.4" y="459.8" font-size="8.9" text-anchor="end" font-weight="normal" fill="#000" transform="rotate(-45 398.4 459.8)">G1</text>
<line x1="438.3" y1="450.2" x2="438.3" y2="454.4" stroke="#000" stroke-width="1.2"/>
<text x="440.5" y="459.8" font-size="8.9" text-anchor="end" font-weight="normal" fill="#000" transform="rotate(-45 440.5 459.8)">S</text>
<line x1="480.5" y1="450.2" x2="480.5" y2="454.4" stroke="#000" stroke-width="1.2"/>
<text x="482.7" y="459.8" font-size="8.9" text-anchor="end" font-weight="normal" fill="#000" transform="rotate(-45 482.7 459.8)">G2M</text>
<line x1="382.5" y1="383.2" x2="411" y2="383.2" stroke="#000" stroke-width="1.9"/>
<circle cx="393.8" cy="382.5" r="2.0" fill="#000"/>
<circle cx="399.2" cy="384.6" r="2.0" fill="#000"/>
<rect x="394.15" y="372.34999999999997" width="3.7" height="3.7" fill="#000"/>
<rect x="394.15" y="389.15" width="3.7" height="3.7" fill="#000"/>
<line x1="424.3" y1="377.1" x2="452.6" y2="377.1" stroke="#000" stroke-width="1.9"/>
<circle cx="430.2" cy="377" r="2.0" fill="#000"/>
<circle cx="441.2" cy="378.2" r="2.0" fill="#000"/>
<rect x="434.15" y="377.15" width="3.7" height="3.7" fill="#000"/>
<rect x="444.15" y="373.15" width="3.7" height="3.7" fill="#000"/>
<line x1="466.3" y1="434.4" x2="495" y2="434.4" stroke="#000" stroke-width="1.1"/>
<line x1="466.3" y1="436.5" x2="495" y2="436.5" stroke="#000" stroke-width="1.1"/>
<circle cx="483.3" cy="433" r="2.0" fill="#000"/>
<circle cx="478" cy="441" r="2.0" fill="#000"/>
<rect x="476.15" y="428.15" width="3.7" height="3.7" fill="#000"/>
<rect x="481.45" y="436.54999999999995" width="3.7" height="3.7" fill="#000"/>
<circle cx="161.3" cy="497.2" r="1.9" fill="#000"/>
<text x="172.5" y="500.9" font-size="9.9" text-anchor="start" font-weight="normal" fill="#000">UT7 MPL WT</text>
<rect x="259.5" y="495.4" width="3.6" height="3.6" fill="#000"/>
<text x="274" y="500.9" font-size="10.1" text-anchor="start" font-weight="normal" fill="#000">UT7 MPL S204P</text>
</svg></body></html>
